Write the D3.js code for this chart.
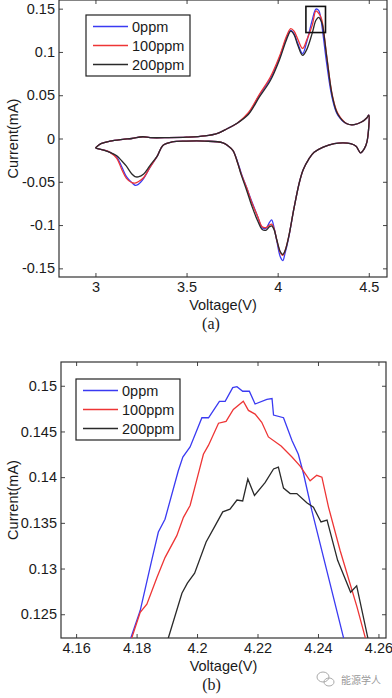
<!DOCTYPE html>
<html>
<head>
<meta charset="utf-8">
<script src="https://cdn.jsdelivr.net/npm/d3@7"></script>
<style>
  html, body { margin: 0; padding: 0; background: #fff; }
  svg { display: block; font-family: "Liberation Sans", Arial, sans-serif; }
</style>
</head>
<body>
<div id="chart"></div>
<script>
// series names and colours (legend order)
const seriesNames = ['0ppm', '100ppm', '200ppm'];
const seriesColors = ['#3a3af2', '#ee3535', '#2a2a2a'];

// panel (a): anodic sweep, 3.0 -> 4.5 V
const upV = [3.00, 3.03, 3.08, 3.15, 3.20, 3.26, 3.30, 3.40, 3.50, 3.60, 3.67, 3.72, 3.78, 3.84, 3.90, 3.96, 4.01, 4.05, 4.072, 4.09, 4.11, 4.137, 4.16, 4.19, 4.21, 4.225, 4.235, 4.245, 4.27, 4.30, 4.33, 4.38, 4.42, 4.46, 4.49, 4.50];
const up0 = [-0.011, -0.006, -0.003, -0.001, 0.000, 0.002, 0.001, 0.001, 0.0015, 0.003, 0.006, 0.011, 0.018, 0.029, 0.050, 0.069, 0.093, 0.117, 0.125, 0.121, 0.110, 0.098, 0.112, 0.137, 0.1495, 0.148, 0.141, 0.127, 0.085, 0.046, 0.027, 0.017, 0.016, 0.019, 0.024, 0.027];
const up100 = [-0.011, -0.006, -0.003, -0.001, 0.000, 0.002, 0.001, 0.001, 0.0015, 0.003, 0.006, 0.011, 0.018, 0.030, 0.051, 0.071, 0.095, 0.119, 0.127, 0.124, 0.115, 0.104, 0.114, 0.131, 0.1475, 0.1445, 0.1412, 0.1345, 0.094, 0.050, 0.029, 0.017, 0.016, 0.019, 0.024, 0.027];
const up200 = [-0.011, -0.006, -0.003, -0.001, 0.000, 0.002, 0.001, 0.001, 0.0015, 0.003, 0.006, 0.011, 0.018, 0.028, 0.048, 0.067, 0.091, 0.115, 0.124, 0.120, 0.108, 0.096, 0.103, 0.122, 0.1366, 0.1400, 0.1373, 0.132, 0.093, 0.049, 0.028, 0.017, 0.016, 0.019, 0.024, 0.027];

// panel (a): cathodic sweep, 4.5 -> 3.0 V
const dnV = [4.49, 4.475, 4.455, 4.43, 4.40, 4.36, 4.31, 4.25, 4.20, 4.17, 4.14, 4.12, 4.09, 4.06, 4.04, 4.028, 4.015, 3.995, 3.98, 3.967, 3.955, 3.935, 3.915, 3.89, 3.86, 3.83, 3.80, 3.78, 3.755, 3.73, 3.70, 3.60, 3.50, 3.42, 3.37, 3.34, 3.30, 3.265, 3.235, 3.217, 3.20, 3.17, 3.145, 3.117, 3.08, 3.04, 3.00];
const dn0 = [-0.004, -0.012, -0.0165, -0.009, -0.006, -0.005, -0.006, -0.010, -0.016, -0.024, -0.036, -0.050, -0.080, -0.115, -0.133, -0.141, -0.137, -0.118, -0.103, -0.094, -0.097, -0.104, -0.103, -0.090, -0.074, -0.057, -0.040, -0.027, -0.014, -0.009, -0.005, -0.003, -0.003, -0.004, -0.008, -0.020, -0.033, -0.046, -0.053, -0.054, -0.051, -0.044, -0.033, -0.0215, -0.016, -0.013, -0.011];
const dn100 = [-0.004, -0.012, -0.0165, -0.009, -0.006, -0.005, -0.006, -0.010, -0.016, -0.024, -0.036, -0.050, -0.080, -0.114, -0.130, -0.135, -0.132, -0.117, -0.104, -0.099, -0.100, -0.103, -0.102, -0.090, -0.075, -0.057, -0.041, -0.028, -0.014, -0.009, -0.005, -0.003, -0.003, -0.004, -0.008, -0.020, -0.033, -0.045, -0.050, -0.0515, -0.051, -0.046, -0.036, -0.023, -0.016, -0.013, -0.011];
const dn200 = [-0.004, -0.012, -0.0165, -0.009, -0.006, -0.005, -0.006, -0.010, -0.016, -0.024, -0.036, -0.050, -0.080, -0.114, -0.130, -0.134, -0.131, -0.117, -0.105, -0.101, -0.102, -0.106, -0.105, -0.095, -0.079, -0.060, -0.042, -0.028, -0.014, -0.009, -0.005, -0.003, -0.003, -0.004, -0.008, -0.020, -0.031, -0.041, -0.0443, -0.044, -0.041, -0.032, -0.026, -0.020, -0.016, -0.013, -0.011];

// panel (b): zoom on the second oxidation peak, [voltage, current]
const zoom0 = [[4.1775, 0.1216], [4.1781, 0.1224], [4.1812, 0.1254], [4.185, 0.1309], [4.1872, 0.1340], [4.1894, 0.1354], [4.1938, 0.1407], [4.1953, 0.1422], [4.1977, 0.1433], [4.2016, 0.1465], [4.2038, 0.1465], [4.2074, 0.1483], [4.2093, 0.1483], [4.2118, 0.1498], [4.2132, 0.1499], [4.2151, 0.1494], [4.2173, 0.1494], [4.2192, 0.1480], [4.2231, 0.1485], [4.2248, 0.1486], [4.2253, 0.1468], [4.2286, 0.1465], [4.2314, 0.1440], [4.2335, 0.1425], [4.2352, 0.1404], [4.238, 0.1363], [4.2429, 0.1298], [4.2484, 0.1225], [4.249, 0.1216]];
const zoom100 = [[4.1778, 0.1216], [4.1784, 0.1224], [4.1812, 0.1252], [4.1834, 0.1261], [4.1867, 0.1290], [4.1894, 0.1312], [4.1933, 0.1336], [4.1955, 0.1356], [4.1977, 0.1369], [4.201, 0.1411], [4.2021, 0.1425], [4.2038, 0.1435], [4.2071, 0.1459], [4.2096, 0.1461], [4.212, 0.1474], [4.2153, 0.1483], [4.217, 0.1473], [4.2192, 0.1469], [4.2214, 0.1460], [4.2236, 0.1444], [4.2278, 0.1434], [4.2314, 0.1422], [4.2341, 0.1412], [4.2374, 0.1396], [4.2396, 0.1402], [4.2413, 0.1400], [4.2435, 0.1367], [4.2473, 0.1320], [4.2529, 0.1258], [4.2556, 0.1225], [4.2562, 0.1216]];
const zoom200 = [[4.1902, 0.1216], [4.1905, 0.1224], [4.195, 0.1273], [4.1968, 0.1284], [4.1992, 0.1295], [4.2030, 0.1329], [4.2060, 0.1347], [4.2085, 0.1362], [4.2109, 0.1365], [4.2132, 0.1375], [4.2151, 0.1374], [4.2168, 0.1398], [4.2190, 0.1380], [4.2225, 0.1394], [4.2253, 0.1409], [4.2269, 0.1411], [4.2286, 0.1388], [4.2308, 0.1382], [4.2330, 0.1382], [4.2363, 0.1372], [4.2385, 0.1367], [4.2410, 0.1351], [4.2430, 0.1353], [4.2465, 0.1309], [4.2508, 0.1274], [4.2528, 0.1281], [4.2565, 0.1224], [4.2568, 0.1216]];

// tick values
const ticksAX = [3, 3.5, 4, 4.5];
const ticksAY = [-0.15, -0.1, -0.05, 0, 0.05, 0.1, 0.15];
const ticksBX = [4.16, 4.18, 4.2, 4.22, 4.24, 4.26];
const ticksBY = [0.125, 0.13, 0.135, 0.14, 0.145, 0.15];

const width = 392;
const height = 698;

const svg = d3.select('#chart')
  .append('svg')
  .attr('width', width)
  .attr('height', height);

const fmt = d => String(+d.toFixed(4));

// draws frame, inward ticks on all four sides and labels
const drawAxes = (box, x, y, tx, ty) => {
  const g = svg.append('g');
  const tick = 4;

  g.append('g')
    .attr('transform', `translate(0,${box.bottom})`)
    .call(d3.axisBottom(x).tickValues(tx).tickFormat(fmt).tickSizeInner(-tick).tickSizeOuter(0).tickPadding(5));
  g.append('g')
    .attr('transform', `translate(0,${box.top})`)
    .call(d3.axisTop(x).tickValues(tx).tickFormat('').tickSizeInner(-tick).tickSizeOuter(0));
  g.append('g')
    .attr('transform', `translate(${box.left},0)`)
    .call(d3.axisLeft(y).tickValues(ty).tickFormat(fmt).tickSizeInner(-tick).tickSizeOuter(0).tickPadding(4));
  g.append('g')
    .attr('transform', `translate(${box.right},0)`)
    .call(d3.axisRight(y).tickValues(ty).tickFormat('').tickSizeInner(-tick).tickSizeOuter(0));

  g.selectAll('.domain').remove();
  g.selectAll('.tick line').attr('stroke', '#444');
  g.selectAll('.tick text')
    .attr('fill', '#1a1a1a')
    .style('font-size', '14.5px')
    .style('font-family', '"Liberation Sans", Arial, sans-serif');

  g.append('rect')
    .attr('x', box.left)
    .attr('y', box.top)
    .attr('width', box.right - box.left)
    .attr('height', box.bottom - box.top)
    .attr('fill', 'none')
    .attr('stroke', '#333')
    .attr('stroke-width', 1.2);
  return g;
};

const drawLegend = (lx, ly, row) => {
  const g = svg.append('g');
  g.append('rect')
    .attr('x', lx)
    .attr('y', ly)
    .attr('width', 104)
    .attr('height', 61)
    .attr('fill', '#fff')
    .attr('stroke', '#222')
    .attr('stroke-width', 1.2);
  seriesNames.forEach((name, i) => {
    const yy = ly + 11.5 + i * row;
    g.append('line')
      .attr('x1', lx + 7)
      .attr('x2', lx + 42)
      .attr('y1', yy)
      .attr('y2', yy)
      .attr('stroke', seriesColors[i])
      .attr('stroke-width', 1.4);
    g.append('text')
      .attr('x', lx + 46)
      .attr('y', yy + 5)
      .style('font-size', '14.5px')
      .attr('fill', '#1a1a1a')
      .text(name);
  });
};

const axisTitles = (box, xlab, ylab, cap, capY) => {
  const cx = (box.left + box.right) / 2;
  svg.append('text')
    .attr('x', cx)
    .attr('y', box.bottom + 33)
    .attr('text-anchor', 'middle')
    .style('font-size', '14.5px')
    .attr('fill', '#1a1a1a')
    .text(xlab);
  svg.append('text')
    .attr('transform', `translate(13,${(box.top + box.bottom) / 2}) rotate(-90)`)
    .attr('text-anchor', 'middle')
    .attr('dominant-baseline', 'central')
    .style('font-size', '14.5px')
    .attr('fill', '#1a1a1a')
    .text(ylab);
  svg.append('text')
    .attr('x', cx - 12)
    .attr('y', capY)
    .attr('text-anchor', 'middle')
    .style('font-family', '"Liberation Serif", "Times New Roman", serif')
    .style('font-size', '16px')
    .attr('fill', '#1a1a1a')
    .text(cap);
};

// ---- panel (a)
const boxA = { left: 59, right: 387, top: 0, bottom: 277 };
const xA = d3.scaleLinear().domain([2.8, 4.6]).range([boxA.left, boxA.right]);
const yA = d3.scaleLinear().domain([-0.16, 0.16]).range([boxA.bottom, boxA.top]);

drawAxes(boxA, xA, yA, ticksAX, ticksAY);

const loops = [[up0, dn0], [up100, dn100], [up200, dn200]].map(([u, d]) =>
  upV.map((v, i) => [v, u[i]]).concat(dnV.map((v, i) => [v, d[i]])));

const lineA = d3.line()
  .x(d => xA(d[0]))
  .y(d => yA(d[1]))
  .curve(d3.curveCatmullRom.alpha(0.5));

svg.append('g')
  .selectAll('path')
  .data(loops)
  .join('path')
  .attr('d', lineA)
  .attr('fill', 'none')
  .attr('stroke', (d, i) => seriesColors[i])
  .attr('stroke-width', 1.3);

// ---- panel (b)
const boxB = { left: 61, right: 386, top: 362, bottom: 638 };
const xB = d3.scaleLinear().domain([4.155, 4.2625]).range([boxB.left, boxB.right]);
const yB = d3.scaleLinear().domain([0.1224, 0.1526]).range([boxB.bottom, boxB.top]);

// zoom marker in panel (a)
svg.append('rect')
  .attr('x', xA(xB.domain()[0]))
  .attr('y', yA(yB.domain()[1]))
  .attr('width', xA(xB.domain()[1]) - xA(xB.domain()[0]))
  .attr('height', yA(yB.domain()[0]) - yA(yB.domain()[1]))
  .attr('fill', 'none')
  .attr('stroke', '#111')
  .attr('stroke-width', 1.6);

drawLegend(86, 15, 19);
axisTitles(boxA, 'Voltage(V)', 'Current(mA)', '(a)', 329);

svg.append('clipPath')
  .attr('id', 'clipB')
  .append('rect')
  .attr('x', boxB.left)
  .attr('y', boxB.top)
  .attr('width', boxB.right - boxB.left)
  .attr('height', boxB.bottom - boxB.top);

drawAxes(boxB, xB, yB, ticksBX, ticksBY);

const lineB = d3.line()
  .x(d => xB(d[0]))
  .y(d => yB(d[1]));

svg.append('g')
  .attr('clip-path', 'url(#clipB)')
  .selectAll('path')
  .data([zoom0, zoom100, zoom200])
  .join('path')
  .attr('d', lineB)
  .attr('fill', 'none')
  .attr('stroke', (d, i) => seriesColors[i])
  .attr('stroke-width', 1.3);

drawLegend(76, 379, 19);
axisTitles(boxB, 'Voltage(V)', 'Current(mA)', '(b)', 690);

// watermark
const wm = svg.append('g').attr('fill', 'none').attr('stroke', '#aaa').attr('stroke-width', 1);
wm.append('ellipse').attr('cx', 323).attr('cy', 677).attr('rx', 6).attr('ry', 5);
wm.append('ellipse').attr('cx', 329).attr('cy', 682).attr('rx', 5).attr('ry', 4);
svg.append('text')
  .attr('x', 341)
  .attr('y', 684)
  .style('font-family', '"Noto Sans CJK SC", sans-serif')
  .style('font-size', '10px')
  .attr('fill', '#999')
  .text('能源学人');
</script>
</body>
</html>
